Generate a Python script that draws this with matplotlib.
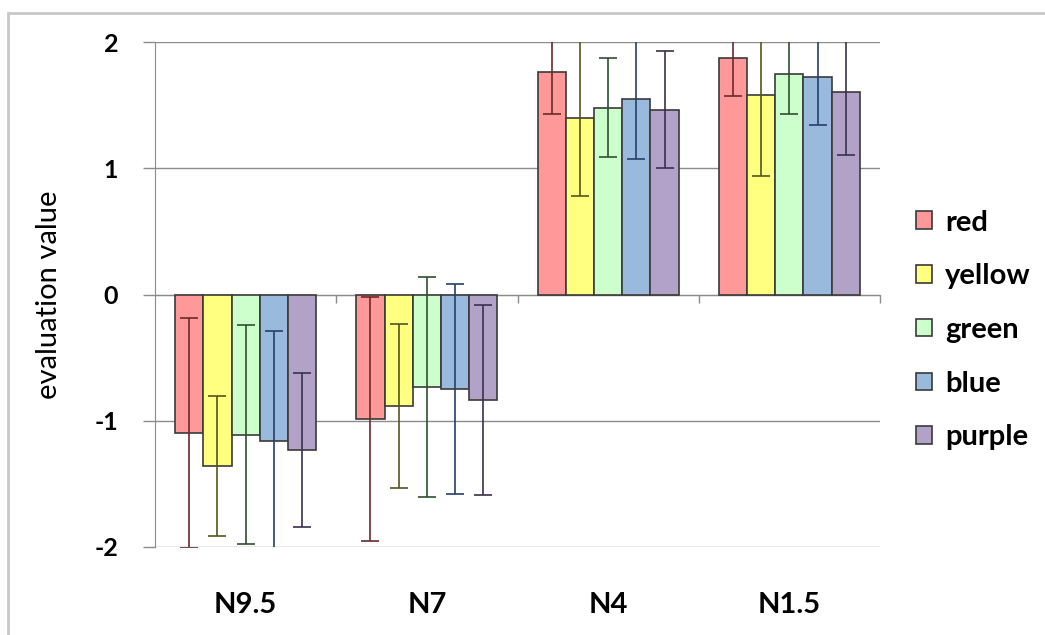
import numpy as np
import matplotlib
matplotlib.use("Agg")
import matplotlib.pyplot as plt
from matplotlib.patches import Rectangle

plt.rcParams['font.family'] = ['Lato', 'DejaVu Sans']

categories = ['N9.5', 'N7', 'N4', 'N1.5']
series = ['red', 'yellow', 'green', 'blue', 'purple']

red = [-1.10, -0.985, 1.76, 1.875]
yellow = [-1.36, -0.88, 1.40, 1.58]
green = [-1.11, -0.735, 1.48, 1.75]
blue = [-1.16, -0.75, 1.545, 1.72]
purple = [-1.235, -0.835, 1.465, 1.605]

red_err = [0.91, 0.965, 0.33, 0.30]
yellow_err = [0.555, 0.65, 0.62, 0.64]
green_err = [0.87, 0.87, 0.39, 0.32]
blue_err = [0.87, 0.83, 0.47, 0.38]
purple_err = [0.61, 0.75, 0.46, 0.50]

values = [red, yellow, green, blue, purple]
errors = [red_err, yellow_err, green_err, blue_err, purple_err]
fills = ['#ff9999', '#ffff80', '#ccffcc', '#99b9dd', '#b3a2c7']
err_cols = ['#6a2a2a', '#55551e', '#2f502f', '#24406a', '#3a304e']

fig = plt.figure(figsize=(10.45, 6.35), dpi=100)
ax = fig.add_axes([155/1045, 1-547/635, (880-155)/1045, (547-42)/635])

# outer frame
fig.patches.append(Rectangle((8/1045, -0.1), 1.2, 1.1-13/635, transform=fig.transFigure,
                             fill=False, edgecolor='#c8c8c8', linewidth=2, zorder=0))

x = np.arange(len(categories)) + 0.5
w = 0.1556
for i, name in enumerate(series):
    pos = x + (i - 2) * w
    ax.bar(pos, values[i], width=w, color=fills[i], edgecolor='#3a3a3a',
           linewidth=1.2, label=name, zorder=2)
    ax.errorbar(pos, values[i], yerr=errors[i], fmt='none', ecolor=err_cols[i],
                elinewidth=1.2, capsize=6.5, capthick=1.2, zorder=3)

ax.set_xlim(0, 4)
ax.set_ylim(-2, 2)
ax.set_yticks([-2, -1, 0, 1, 2])
ax.set_yticklabels(['-2', '-1', '0', '1', '2'], fontsize=18, fontweight='bold')
ax.grid(axis='y', color='#8c8c8c', linewidth=1, zorder=0)
ax.set_axisbelow(True)
ax.tick_params(axis='y', length=8.6, width=1, color='#8c8c8c', pad=18)

for s in ['top', 'right']:
    ax.spines[s].set_visible(False)
ax.spines['left'].set_color('#8c8c8c')
ax.spines['bottom'].set_position(('data', 0))
ax.spines['bottom'].set_color('#8c8c8c')
ax.spines['bottom'].set_zorder(1)
ax.set_xticks([1, 2, 3, 4])
ax.set_xticklabels([])
ax.tick_params(axis='x', length=6, width=1, color='#8c8c8c', direction='out')

for xi, lab in zip(x, categories):
    ax.text(xi, -2.46, lab, ha='center', va='center', fontsize=21, fontweight='bold')

ax.set_ylabel('evaluation value', fontsize=21)
ax.yaxis.set_label_coords(-0.128, 0.5)

fig.legend(loc='center left', bbox_to_anchor=(916/1045, 1-330/635), frameon=False,
           prop={'size': 21, 'weight': 'bold'}, handlelength=0.55, handleheight=0.55,
           handletextpad=0.45, labelspacing=0.95, borderaxespad=0, borderpad=0)

fig.savefig('out.png', dpi=100)
